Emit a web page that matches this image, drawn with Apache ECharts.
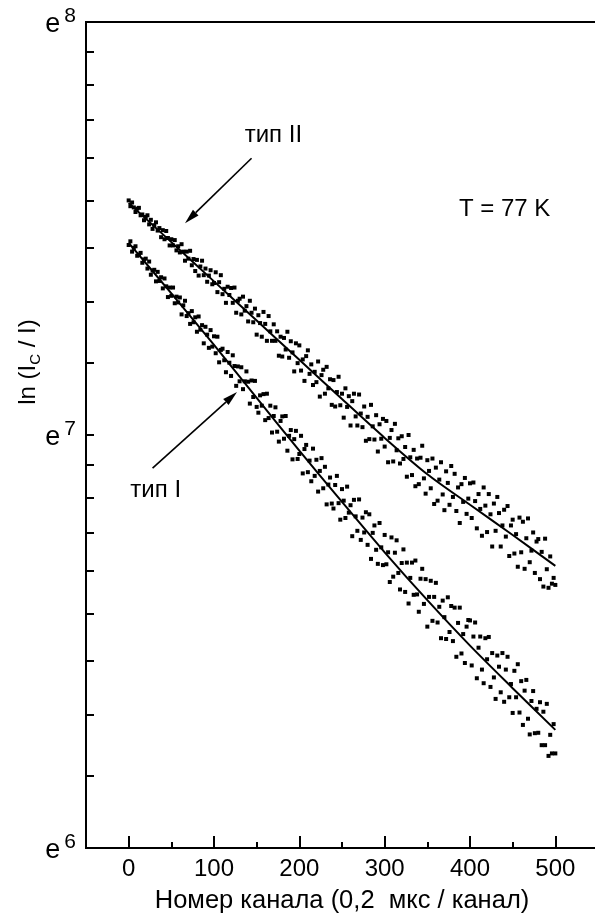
<!DOCTYPE html>
<html>
<head>
<meta charset="utf-8">
<script src="https://cdn.jsdelivr.net/npm/echarts@6/dist/echarts.min.js"></script>
<style>
html, body { margin: 0; padding: 0; background: #fff; }
#main { width: 595px; height: 915px; }
</style>
</head>
<body>
<div id="main"></div>
<script>
// channel numbers go 0, 2, 4 ... 500
var channelStep = 2;

// ln values, type II (upper band)
var typeII = [
  7.568, 7.554, 7.563, 7.551, 7.540, 7.548, 7.550, 7.532, 7.534, 7.520,
  7.528, 7.532, 7.510, 7.521, 7.499, 7.508, 7.515, 7.495, 7.501, 7.479,
  7.496, 7.474, 7.494, 7.477, 7.459, 7.474, 7.459, 7.472, 7.447, 7.457,
  7.442, 7.462, 7.444, 7.422, 7.444, 7.427, 7.446, 7.411, 7.426, 7.397,
  7.424, 7.386, 7.408, 7.422, 7.387, 7.403, 7.371, 7.386, 7.399, 7.365,
  7.368, 7.394, 7.346, 7.370, 7.387, 7.341, 7.354, 7.320, 7.359, 7.339,
  7.356, 7.320, 7.357, 7.296, 7.325, 7.330, 7.292, 7.335, 7.301, 7.312,
  7.275, 7.325, 7.296, 7.273, 7.306, 7.243, 7.290, 7.271, 7.238, 7.298,
  7.269, 7.228, 7.288, 7.251, 7.228, 7.268, 7.228, 7.251, 7.192, 7.238,
  7.190, 7.235, 7.207, 7.250, 7.187, 7.227, 7.200, 7.154, 7.222, 7.174,
  7.217, 7.156, 7.183, 7.131, 7.191, 7.205, 7.148, 7.171, 7.121, 7.153,
  7.128, 7.178, 7.093, 7.145, 7.158, 7.100, 7.165, 7.113, 7.135, 7.073,
  7.133, 7.069, 7.104, 7.141, 7.072, 7.100, 7.042, 7.113, 7.068, 7.094,
  7.023, 7.082, 7.100, 7.045, 7.023, 7.098, 7.052, 7.019, 7.069, 6.986,
  7.044, 6.990, 7.073, 7.021, 6.989, 7.048, 6.960, 7.026, 6.991, 7.039,
  6.972, 7.034, 6.934, 6.993, 7.012, 6.936, 7.027, 6.963, 6.992, 6.931,
  6.997, 6.942, 6.971, 6.899, 7.000, 6.946, 6.903, 6.964, 6.876, 6.943,
  6.881, 6.945, 6.974, 6.895, 6.858, 6.939, 6.913, 6.871, 6.943, 6.833,
  6.921, 6.841, 6.892, 6.934, 6.856, 6.818, 6.912, 6.884, 6.831, 6.925,
  6.850, 6.906, 6.816, 6.873, 6.787, 6.881, 6.838, 6.896, 6.809, 6.846,
  6.883, 6.799, 6.885, 6.840, 6.774, 6.857, 6.821, 6.756, 6.873, 6.829,
  6.765, 6.857, 6.808, 6.730, 6.834, 6.768, 6.850, 6.811, 6.730, 6.781,
  6.819, 6.754, 6.828, 6.707, 6.781, 6.795, 6.713, 6.760, 6.681, 6.800,
  6.716, 6.790, 6.676, 6.750, 6.798, 6.692, 6.720, 6.764, 6.666, 6.742,
  6.748, 6.651, 6.717, 6.633, 6.749, 6.675, 6.630, 6.706, 6.640, 6.654,
  6.637
];

// ln values, type I (lower band)
var typeI = [
  7.460, 7.469, 7.444, 7.453, 7.457, 7.434, 7.437, 7.441, 7.417, 7.425,
  7.427, 7.403, 7.420, 7.388, 7.398, 7.400, 7.372, 7.395, 7.373, 7.382,
  7.355, 7.379, 7.360, 7.334, 7.357, 7.337, 7.357, 7.319, 7.335, 7.321,
  7.333, 7.292, 7.314, 7.325, 7.288, 7.295, 7.269, 7.300, 7.273, 7.285,
  7.250, 7.287, 7.255, 7.266, 7.222, 7.262, 7.243, 7.211, 7.254, 7.214,
  7.239, 7.198, 7.238, 7.176, 7.206, 7.209, 7.181, 7.152, 7.201, 7.175,
  7.143, 7.193, 7.167, 7.119, 7.166, 7.130, 7.164, 7.111, 7.130, 7.154,
  7.129, 7.076, 7.132, 7.092, 7.131, 7.068, 7.054, 7.096, 7.071, 7.099,
  7.036, 7.100, 7.041, 7.071, 7.006, 7.046, 7.067, 7.008, 6.984, 7.034,
  7.045, 6.991, 7.046, 6.962, 6.998, 7.012, 6.941, 6.990, 7.010, 6.942,
  6.954, 6.998, 6.907, 6.966, 6.976, 6.910, 6.938, 6.888, 6.967, 6.901,
  6.940, 6.863, 6.913, 6.944, 6.871, 6.923, 6.832, 6.880, 6.897, 6.834,
  6.822, 6.879, 6.901, 6.835, 6.795, 6.869, 6.841, 6.799, 6.875, 6.812,
  6.830, 6.755, 6.843, 6.803, 6.768, 6.844, 6.746, 6.800, 6.764, 6.813,
  6.734, 6.808, 6.700, 6.763, 6.781, 6.722, 6.688, 6.787, 6.728, 6.685,
  6.758, 6.687, 6.716, 6.644, 6.752, 6.657, 6.715, 6.745, 6.666, 6.626,
  6.690, 6.723, 6.620, 6.691, 6.592, 6.654, 6.691, 6.613, 6.696, 6.614,
  6.572, 6.652, 6.676, 6.591, 6.651, 6.536, 6.608, 6.647, 6.550, 6.608,
  6.642, 6.546, 6.584, 6.508, 6.599, 6.559, 6.506, 6.607, 6.523, 6.586,
  6.501, 6.582, 6.463, 6.545, 6.582, 6.471, 6.518, 6.448, 6.536, 6.552,
  6.551, 6.442, 6.512, 6.546, 6.411, 6.485, 6.512, 6.432, 6.399, 6.508,
  6.457, 6.511, 6.390, 6.472, 6.413, 6.361, 6.466, 6.439, 6.377, 6.472,
  6.354, 6.432, 6.463, 6.365, 6.397, 6.327, 6.429, 6.365, 6.445, 6.328,
  6.404, 6.298, 6.381, 6.407, 6.313, 6.275, 6.356, 6.380, 6.278, 6.337,
  6.279, 6.353, 6.249, 6.330, 6.249, 6.349, 6.223, 6.274, 6.229, 6.300,
  6.229
];

// fitted curves
var fitChannels = [0, 50, 100, 150, 200, 250, 300, 350, 400, 450, 500];
var fitII = [7.562, 7.467, 7.372, 7.277, 7.182, 7.087, 6.993, 6.905, 6.831, 6.758, 6.683];
var fitI  = [7.465, 7.343, 7.218, 7.090, 6.962, 6.838, 6.716, 6.600, 6.490, 6.387, 6.286];

// axes
var xMajor = [0, 100, 200, 300, 400, 500];
var xMinor = [50, 150, 250, 350, 450];
var yPowers = [6, 7, 8];

var FONT = '"Liberation Sans", Arial, Helvetica, sans-serif';

// minor ticks: 8 equal steps of e^n between decades (as in the original log axis)
var yTicks = [];
for (var p = 6; p < 8; p++) {
  var a = Math.exp(p), b = Math.exp(p + 1);
  for (var k = 0; k < 9; k++) yTicks.push(Math.log(a + k * (b - a) / 9));
}
yTicks.push(8);

function pairs(vals) {
  return vals.map(function (v, i) { return [i * channelStep, v]; });
}
function fitPairs(vals) {
  return vals.map(function (v, i) { return [fitChannels[i], v]; });
}

var chart = echarts.init(document.getElementById('main'));

var option = {
  animation: false,
  backgroundColor: '#fff',
  textStyle: { fontFamily: FONT },
  grid: {
    left: 86, right: -3, top: 22, bottom: 67,
    show: true, borderColor: '#000', borderWidth: 2,
    containLabel: false, outerBoundsMode: 'none'
  },
  xAxis: [{
    type: 'value', min: -50, max: 550,
    axisLine: { onZero: false, lineStyle: { color: '#000', width: 2 } },
    axisTick: { inside: true, length: 12, lineStyle: { color: '#000', width: 2 }, customValues: xMajor },
    axisLabel: { customValues: xMajor, color: '#000', fontSize: 24, fontFamily: FONT, margin: 9 },
    splitLine: { show: false },
    name: 'Номер канала (0,2  мкс / канал)',
    nameLocation: 'middle', nameGap: 40,
    nameTextStyle: { color: '#000', fontSize: 25.5, fontFamily: FONT }
  }, {
    type: 'value', min: -50, max: 550, position: 'bottom',
    axisLine: { show: false, onZero: false },
    axisTick: { inside: true, length: 6, lineStyle: { color: '#000', width: 2 }, customValues: xMinor },
    axisLabel: { show: false },
    splitLine: { show: false }
  }],
  yAxis: {
    type: 'value', min: 6, max: 8,
    axisLine: { show: true, onZero: false, lineStyle: { color: '#000', width: 2 } },
    axisTick: { show: true, inside: true, length: 8, lineStyle: { color: '#000', width: 2 }, customValues: yTicks },
    axisLabel: {
      customValues: yPowers, margin: 10,
      formatter: function (v) { return '{e|e}{s|' + Math.round(v) + '}'; },
      rich: {
        e: { fontSize: 27, fontFamily: FONT, color: '#000', lineHeight: 32, verticalAlign: 'bottom' },
        s: { fontSize: 21, fontFamily: FONT, color: '#000', lineHeight: 32, verticalAlign: 'top', padding: [0, 0, 0, 4] }
      }
    },
    splitLine: { show: false }
  },
  series: [{
    name: 'тип II', type: 'scatter', data: pairs(typeII),
    symbol: 'rect', symbolSize: 4, itemStyle: { color: '#000', opacity: 1 }
  }, {
    name: 'тип I', type: 'scatter', data: pairs(typeI),
    symbol: 'rect', symbolSize: 4, itemStyle: { color: '#000', opacity: 1 }
  }, {
    type: 'line', data: fitPairs(fitII), smooth: 0.3, showSymbol: false, symbol: 'none',
    lineStyle: { color: '#000', width: 2 }
  }, {
    type: 'line', data: fitPairs(fitI), smooth: 0.3, showSymbol: false, symbol: 'none',
    lineStyle: { color: '#000', width: 2 }
  }]
};
chart.setOption(option);

// annotations, anchored in data space
var labels = [
  { text: 'тип II', at: [136, 7.726] },
  { text: 'тип I', at: [2, 6.867] },
  { text: 'T = 77 K', at: [387, 7.547] }
];
var arrows = [
  { from: [144, 7.670], to: [66, 7.513] },
  { from: [28, 6.920], to: [127, 7.104] }
];

function px(pt) { return chart.convertToPixel({ xAxisIndex: 0, yAxisIndex: 0 }, pt); }

var graphics = [];
labels.forEach(function (l) {
  var q = px(l.at);
  graphics.push({
    type: 'text', x: q[0], y: q[1],
    style: { text: l.text, fill: '#000', fontSize: 24, fontFamily: FONT, textAlign: 'left', textVerticalAlign: 'middle' }
  });
});
arrows.forEach(function (a) {
  var p0 = px(a.from), p1 = px(a.to);
  var dx = p1[0] - p0[0], dy = p1[1] - p0[1];
  var len = Math.sqrt(dx * dx + dy * dy);
  var ux = dx / len, uy = dy / len;
  var hl = 15, hw = 4;
  var bx = p1[0] - ux * hl, by = p1[1] - uy * hl;
  graphics.push({
    type: 'line', shape: { x1: p0[0], y1: p0[1], x2: bx, y2: by },
    style: { stroke: '#000', lineWidth: 1.6 }
  });
  graphics.push({
    type: 'polygon',
    shape: { points: [[p1[0], p1[1]], [bx - uy * hw, by + ux * hw], [bx + uy * hw, by - ux * hw]] },
    style: { fill: '#000' }
  });
});
// y axis title with subscript
graphics.push({
  type: 'text', x: 28, y: 362, rotation: Math.PI / 2,
  style: {
    text: 'ln (I{sub|C} / I)', fill: '#000', fontSize: 24, fontFamily: FONT,
    textAlign: 'center', textVerticalAlign: 'middle',
    rich: {
      sub: { fontSize: 15, fontFamily: FONT, fill: '#000', verticalAlign: 'bottom', lineHeight: 30, padding: [8, 0, 0, 0] }
    }
  }
});
chart.setOption({ graphic: graphics });
</script>
</body>
</html>
